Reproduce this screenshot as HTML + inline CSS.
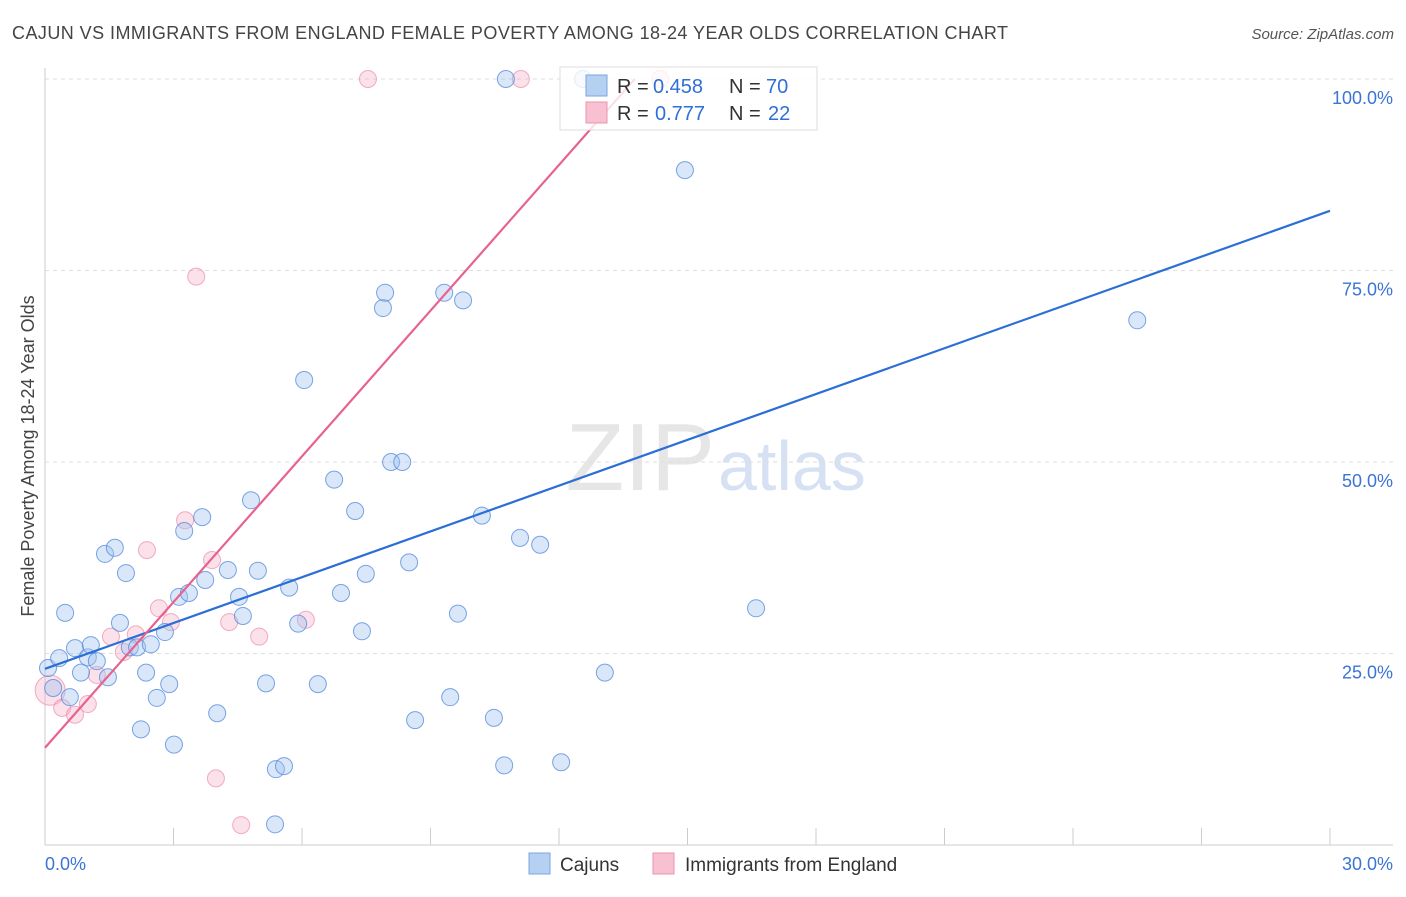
<!DOCTYPE html>
<html><head><meta charset="utf-8"><style>
body{margin:0;background:#fff;font-family:"Liberation Sans",sans-serif}
svg text{font-family:"Liberation Sans",sans-serif}
</style></head><body>
<svg id="c" width="1406" height="892" viewBox="0 0 1406 892">
<text x="12" y="39" font-size="18" fill="#444" textLength="996">CAJUN VS IMMIGRANTS FROM ENGLAND FEMALE POVERTY AMONG 18-24 YEAR OLDS CORRELATION CHART</text>
<text x="1394" y="39" font-size="15" fill="#555" font-style="italic" text-anchor="end">Source: ZipAtlas.com</text>
<text x="715" y="490" font-size="96" fill="#e6e6e6" text-anchor="end" font-family="Liberation Serif">ZIP</text>
<text x="718" y="490" font-size="70" fill="#d6e2f3">atlas</text>
<text transform="translate(34,456) rotate(-90)" font-size="18" fill="#444" text-anchor="middle">Female Poverty Among 18-24 Year Olds</text>
<g id="grid"></g><g id="pts"></g><g id="lines"></g>
<g>
<rect x="560" y="67" width="257" height="63" fill="rgba(255,255,255,0.8)" stroke="#ddd"/>
<rect x="586" y="75" width="21" height="21" fill="#b6d0f2" stroke="#7aa6e3"/>
<rect x="586" y="102" width="21" height="21" fill="#f7c1d1" stroke="#ee93b0"/>
<text x="617" y="93" font-size="20" fill="#333">R =</text>
<text x="653" y="93" font-size="20" fill="#2e6fd8">0.458</text>
<text x="729" y="93" font-size="20" fill="#333">N =</text>
<text x="766" y="93" font-size="20" fill="#2e6fd8">70</text>
<text x="617" y="120" font-size="20" fill="#333">R =</text>
<text x="655" y="120" font-size="20" fill="#2e6fd8">0.777</text>
<text x="729" y="120" font-size="20" fill="#333">N =</text>
<text x="768" y="120" font-size="20" fill="#2e6fd8">22</text>
</g>
<g>
<rect x="529" y="853" width="21" height="21" fill="#b6d0f2" stroke="#7aa6e3"/>
<text x="560" y="871" font-size="19" fill="#333">Cajuns</text>
<rect x="653" y="853" width="21" height="21" fill="#f7c1d1" stroke="#ee93b0"/>
<text x="685" y="871" font-size="19" fill="#333">Immigrants from England</text>
</g>
</svg>
<script>
const xTicks=[0,3,6,9,12,15,18,21,24,27,30];
const yTicks=[25,50,75,100];
const yTickLabels=["25.0%","50.0%","75.0%","100.0%"];
const xEndLabels=["0.0%","30.0%"];
const cajunX=[0.07,0.33,0.47,0.58,0.70,0.84,1.00,1.07,1.21,1.40,1.47,1.63,1.75,1.89,1.98,2.15,2.24,2.36,2.47,2.61,2.80,2.90,3.01,3.13,3.25,3.36,3.67,3.74,4.02,4.27,4.53,4.62,4.81,4.97,5.16,5.39,5.58,5.37,5.70,5.91,6.05,6.37,6.75,6.91,7.24,7.40,7.49,7.89,7.94,8.08,8.34,8.50,8.64,9.32,9.46,9.64,9.76,10.20,10.48,10.72,10.76,11.09,11.56,12.05,12.56,13.07,14.94,16.60,25.50,0.19];
const cajunY=[23.1,24.4,30.3,19.3,25.7,22.5,24.5,26.1,24.0,38.0,21.9,38.8,29.0,35.5,25.8,25.8,15.1,22.5,26.2,19.2,27.8,21.0,13.1,32.4,41.0,32.9,42.8,34.6,17.2,35.9,32.4,29.9,45.0,35.8,21.1,9.9,10.3,2.7,33.6,28.9,60.7,21.0,47.7,32.9,43.6,27.9,35.4,70.1,72.1,50.0,50.0,36.9,16.3,72.1,19.3,30.2,71.1,43.0,16.6,10.4,100,40.1,39.2,10.8,100,22.5,88.1,30.9,68.5,20.5];
const engX=[0.12,0.40,0.70,1.00,1.21,1.54,1.84,2.12,2.38,2.66,2.94,3.27,3.53,3.90,3.99,4.30,4.58,5.00,6.09,7.54,11.11,14.36];
const engY=[20.2,17.9,17.0,18.4,22.2,27.2,25.2,27.5,38.5,30.9,29.1,42.4,74.2,37.2,8.7,29.1,2.6,27.2,29.4,100,100,100];
const cajunTrend=[23.0,1.993];
const engTrend=[12.7,6.34];
const NS="http://www.w3.org/2000/svg";
const X0=45,X1=1330,Y0=845,Y100=79;
const xs=v=>X0+v/30*(X1-X0);
const ys=v=>Y0-v/100*(Y0-Y100);
function mk(t,a,p){const e=document.createElementNS(NS,t);for(const k in a)e.setAttribute(k,a[k]);p.appendChild(e);return e;}
const g=document.getElementById('grid');
let ax=mk('line',{x1:X0,y1:68,x2:X0,y2:Y0,stroke:'#ccc'},g);


let bx=mk('line',{x1:X0,y1:Y0,x2:1393,y2:Y0,stroke:'#ccc'},g);


yTicks.forEach((t,i)=>{
 const l=mk('line',{x1:X0,y1:ys(t),x2:1393,y2:ys(t),stroke:'#ddd','stroke-dasharray':'4,4'},g);
 
 
 const tx=mk('text',{x:1393,y:ys(t)+25,'font-size':18,fill:'#3b73d6','text-anchor':'end'},g);
 tx.textContent=yTickLabels[i];
 
 
});
xTicks.forEach(t=>{
 const l=mk('line',{x1:xs(t),y1:828,x2:xs(t),y2:Y0,stroke:'#ccc'},g);
 
 
});
[[0,'start',45],[30,'end',1393]].forEach((d,i)=>{
 const tx=mk('text',{x:d[2],y:870,'font-size':18,fill:'#3b73d6','text-anchor':d[1]},g);
 tx.textContent=xEndLabels[i];
 
 
});
const p=document.getElementById('pts');
engX.forEach((v,i)=>{
 const c=mk('circle',{cx:xs(v),cy:ys(engY[i]),r:i==0?15:8.5,fill:'rgba(244,168,192,0.35)',stroke:'rgba(236,140,170,0.7)','stroke-width':1},p);
 
 
});
cajunX.forEach((v,i)=>{
 const c=mk('circle',{cx:xs(v),cy:ys(cajunY[i]),r:8.5,fill:'rgba(160,196,240,0.4)',stroke:'rgba(80,135,220,0.75)','stroke-width':1},p);
 
 
});
const L=document.getElementById('lines');
let bl=mk('line',{x1:xs(0),y1:ys(cajunTrend[0]),x2:xs(30),y2:ys(cajunTrend[0]+30*cajunTrend[1]),stroke:'#2b6fd6','stroke-width':2.2},L);


const ex=(100-engTrend[0])/engTrend[1];
let pl=mk('line',{x1:xs(0),y1:ys(engTrend[0]),x2:xs(ex),y2:ys(100),stroke:'#e8628e','stroke-width':2.2},L);


</script>
</body></html>
